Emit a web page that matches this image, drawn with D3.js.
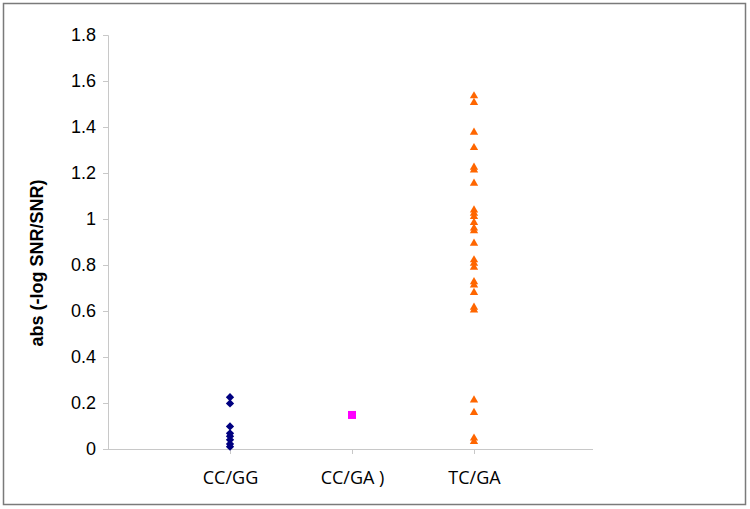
<!DOCTYPE html>
<html><head><meta charset="utf-8">
<script src="https://cdn.jsdelivr.net/npm/d3@7"></script>
<style>body{margin:0;background:#fff}</style>
</head><body>
<svg id="c" width="750" height="509"></svg>
<script>
const categories = ["CC/GG", "CC/GA )", "TC/GA"];
const ccggValues = [0.225, 0.198, 0.098, 0.068, 0.055, 0.04, 0.022, 0.01];
const ccgaValues = [0.148];
const tcgaValues = [1.535, 1.506, 1.377, 1.31, 1.225, 1.213, 1.155, 1.039, 1.025, 1.01, 0.984, 0.96, 0.949,
  0.894, 0.822, 0.807, 0.79, 0.727, 0.713, 0.68, 0.616, 0.604, 0.213, 0.158, 0.047, 0.032];
const yTicks = [0, 0.2, 0.4, 0.6, 0.8, 1, 1.2, 1.4, 1.6, 1.8];
const yTitle = "abs (-log SNR/SNR)";

const svg = d3.select("#c");
svg.append("rect").attr("x", 3.5).attr("y", 3.5).attr("width", 742).attr("height", 501)
  .attr("fill", "#fff").attr("stroke", "#7a7a7a").attr("stroke-width", 1.5);

const x = d3.scaleLinear().domain([0, 4]).range([108, 596]);
const y = d3.scaleLinear().domain([0, 1.8]).range([449, 35]);
const axisColor = "#c8c8c8";

// y axis
const ya = svg.append("g").attr("transform", "translate(108,0)")
  .call(d3.axisLeft(y).tickValues(yTicks).tickSize(5).tickPadding(7).tickFormat(d => d3.format("")(d)));
ya.select(".domain").attr("stroke", axisColor);
ya.selectAll(".tick line").attr("stroke", axisColor);
ya.selectAll("text").attr("font-family", "Liberation Sans, Arial, sans-serif").attr("font-size", 18).attr("fill", "#000");

// x axis
const xa = svg.append("g").attr("transform", "translate(0,449)")
  .call(d3.axisBottom(x).tickValues([1, 2, 3]).tickSize(5).tickSizeOuter(0).tickPadding(17)
    .tickFormat((d) => categories[d - 1]));
xa.select(".domain").attr("stroke", axisColor).attr("d", `M103,0.5H593`);
xa.selectAll(".tick line").attr("stroke", axisColor);
xa.selectAll("text").attr("font-family", "Open Sans, sans-serif").attr("font-size", 18).attr("fill", "#000");

// y title
svg.append("text").attr("transform", `translate(43,263) rotate(-90)`)
  .attr("text-anchor", "middle").attr("font-family", "Liberation Sans, Arial, sans-serif")
  .attr("font-weight", "bold").attr("font-size", 18).text(yTitle);

// points
svg.append("g").selectAll("path").data(ccggValues).join("path")
  .attr("transform", d => `translate(${x(1)},${y(d)})`)
  .attr("d", d3.symbol(d3.symbolDiamond2, 44)).attr("fill", "#000080");
svg.append("g").selectAll("rect").data(ccgaValues).join("rect")
  .attr("x", x(2) - 4).attr("y", d => y(d) - 4).attr("width", 8).attr("height", 8).attr("fill", "#ff00ff");
svg.append("g").selectAll("path").data(tcgaValues).join("path")
  .attr("transform", d => `translate(${x(3)},${y(d)})`)
  .attr("d", d3.symbol(d3.symbolTriangle, 30)).attr("fill", "#ff6600");
</script>
</body></html>
